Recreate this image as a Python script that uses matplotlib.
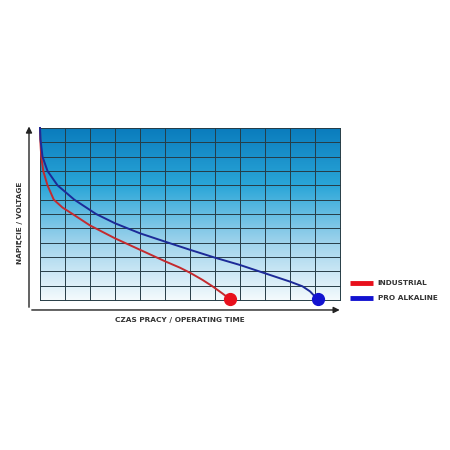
import numpy as np
import matplotlib.pyplot as plt
from matplotlib.colors import LinearSegmentedColormap

# curve values (grid units: 12 x 12 cells)
industrial_x = [0.0, 0.01, 0.05, 0.13, 0.3, 0.55, 0.9, 1.3, 2.0, 3.0, 4.0, 5.0, 5.6, 6.0, 6.5, 6.9, 7.3, 7.6]
industrial_y = [12.0, 11.2, 10.0, 9.0, 8.0, 7.0, 6.45, 6.0, 5.2, 4.3, 3.5, 2.7, 2.25, 1.9, 1.4, 0.95, 0.45, 0.05]
alkaline_x = [0.0, 0.02, 0.1, 0.3, 0.7, 1.37, 2.24, 3.0, 4.0, 5.0, 6.0, 7.0, 8.0, 9.0, 10.0, 10.5, 10.8, 11.1]
alkaline_y = [12.0, 11.2, 10.0, 9.0, 8.0, 7.0, 6.0, 5.35, 4.65, 4.07, 3.5, 2.95, 2.44, 1.86, 1.28, 0.95, 0.6, 0.05]
series_names = ['INDUSTRIAL', 'PRO ALKALINE']
line_colors = ['#c42a2e', '#1c2a98']
dot_colors = ['#e8101c', '#1212d0']

fig = plt.figure(figsize=(4.5, 4.5), dpi=100)
ax = fig.add_axes([0, 0, 1, 1])
ax.set_xlim(-1.6, 16.4)
ax.set_ylim(-10.47, 20.93)
ax.axis('off')

# gradient background
cmap = LinearSegmentedColormap.from_list('bg', ['#f4fafd', '#9fd3ec', '#2aa6d8', '#0a7cbd'])
grad = np.linspace(0, 1, 256).reshape(-1, 1)
ax.imshow(grad, extent=[0, 12, 0, 12], origin='lower', cmap=cmap, aspect='auto', zorder=0)

for i in range(13):
    ax.plot([i, i], [0, 12], color='#263c46', lw=0.7, zorder=1)
    ax.plot([0, 12], [i, i], color='#263c46', lw=0.7, zorder=1)

# axes arrows
ax.annotate('', xy=(-0.44, 12.3), xytext=(-0.44, -0.7),
            arrowprops=dict(arrowstyle='-|>', color='#222222', lw=1.0, mutation_scale=9))
ax.annotate('', xy=(12.1, -0.7), xytext=(-0.44, -0.7),
            arrowprops=dict(arrowstyle='-|>', color='#222222', lw=1.0, mutation_scale=9))

xs = [industrial_x, alkaline_x]
ys = [industrial_y, alkaline_y]
for k in range(2):
    ax.plot(xs[k], ys[k], color=line_colors[k], lw=1.4, zorder=3, solid_joinstyle='round')
    ax.plot(xs[k][-1], ys[k][-1], 'o', color=dot_colors[k], ms=8.5, zorder=4)

ax.text(5.6, -1.4, 'CZAS PRACY / OPERATING TIME', fontsize=5.3, fontweight='bold',
        color='#333333', ha='center', va='center')
ax.text(-0.8, 5.4, 'NAPIĘCIE / VOLTAGE', fontsize=5.3, fontweight='bold',
        color='#333333', ha='center', va='center', rotation=90)

# legend
for k in range(2):
    yk = 1.2 - k * 1.05
    ax.plot([12.4, 13.3], [yk, yk], color=dot_colors[k], lw=3.5, solid_capstyle='butt')
    ax.text(13.5, yk, series_names[k], fontsize=5.3, fontweight='bold',
            color='#333333', ha='left', va='center')

fig.savefig('out.png', dpi=100)
